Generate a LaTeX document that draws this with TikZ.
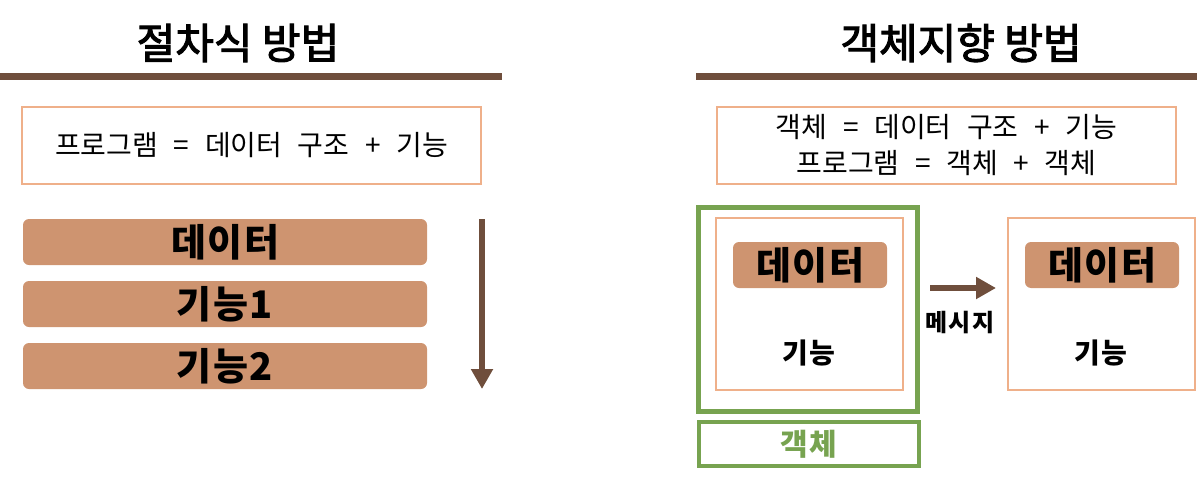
\documentclass[tikz,border=0pt]{standalone}
\usepackage{fontspec}
\setmainfont{Noto Sans CJK KR}
\newfontfamily\formfont[WordSpace=2.5]{Noto Sans CJK KR}
\newfontfamily\labfont[LetterSpace=4]{Noto Sans CJK KR}
\newfontfamily\titlefont[FakeBold=2.5]{Noto Sans CJK KR}
\usetikzlibrary{arrows.meta}
\definecolor{lineBrown}{HTML}{6F4E3C}
\definecolor{barFill}{HTML}{CE9470}
\definecolor{peach}{HTML}{EFB08A}
\definecolor{objGreen}{HTML}{77A350}
\tikzset{
  title/.style={font=\titlefont\fontsize{42}{44}\selectfont, inner sep=0},
  formula/.style={draw=peach, line width=2pt, inner sep=0, font=\formfont\fontsize{28}{36}\selectfont, align=center},
  bar/.style={fill=barFill, rounded corners=6pt, inner sep=0, font=\labfont\fontsize{38}{40}\selectfont\bfseries},
  objbox/.style={draw=peach, line width=2pt, inner sep=0},
  greenbox/.style={draw=objGreen, line width=4.5pt, inner sep=0},
  lbl/.style={inner sep=0, font=\labfont\fontsize{28}{30}\selectfont\bfseries},
  flowarrow/.style={draw=lineBrown, line width=6pt, -{Triangle[length=20pt, width=21pt]}},
  rule/.style={draw=lineBrown, line width=7pt}
}
\begin{document}
\begin{tikzpicture}[x=1pt, y=-1pt]
\useasboundingbox (0,0) rectangle (1202,482);
% titles
\node[title] (t1) at (238,43) {절차식 방법};
\node[title] (t2) at (961,43) {객체지향 방법};
\coordinate (r1a) at (0,76.5);
\coordinate (r1b) at (502,76.5);
\coordinate (r2a) at (696,76.5);
\coordinate (r2b) at (1197,76.5);
\draw[rule] (r1a) -- (r1b);
\draw[rule] (r2a) -- (r2b);
% formula boxes
\node[formula, minimum width=459pt, minimum height=77pt] (f1) at (251.5,145.5) {프로그램 = 데이터 구조 + 기능};
\node[formula, minimum width=459pt, minimum height=77pt] (f2) at (946.5,145.5) {객체 = 데이터 구조 + 기능\\프로그램 = 객체 + 객체};
% procedural bars
\node[bar, minimum width=404pt, minimum height=46pt] (b1) at (225,242) {데이터};
\node[bar, minimum width=404pt, minimum height=46pt] (b2) at (225,304) {기능1};
\node[bar, minimum width=404pt, minimum height=46pt] (b3) at (225,366) {기능2};
\coordinate (da) at (482,219);
\coordinate (db) at (482,389);
\draw[flowarrow] (da) -- (db);
% object side
\node[greenbox, minimum width=219pt, minimum height=204pt] (g1) at (808,309.5) {};
\node[objbox, minimum width=187pt, minimum height=172pt] (o1) at (809.5,304) {};
\node[bar, minimum width=154pt, minimum height=46pt] (d1) at (810,265) {데이터};
\node[lbl] (k1) at (809,353) {기능};
\node[objbox, minimum width=187pt, minimum height=172pt] (o2) at (1101.5,304) {};
\node[bar, minimum width=154pt, minimum height=46pt] (d2) at (1102,265) {데이터};
\node[lbl] (k2) at (1101,353) {기능};
\coordinate (ma) at (930,288);
\coordinate (mb) at (996,288);
\draw[flowarrow] (ma) -- (mb);
\node[lbl, font=\labfont\fontsize{24}{26}\selectfont\bfseries] (msg) at (960,323) {메시지};
\node[greenbox, minimum width=220pt, minimum height=44pt, text=objGreen, font=\labfont\fontsize{30}{32}\selectfont\bfseries] (g2) at (809,444) {객체};
\end{tikzpicture}
\end{document}
